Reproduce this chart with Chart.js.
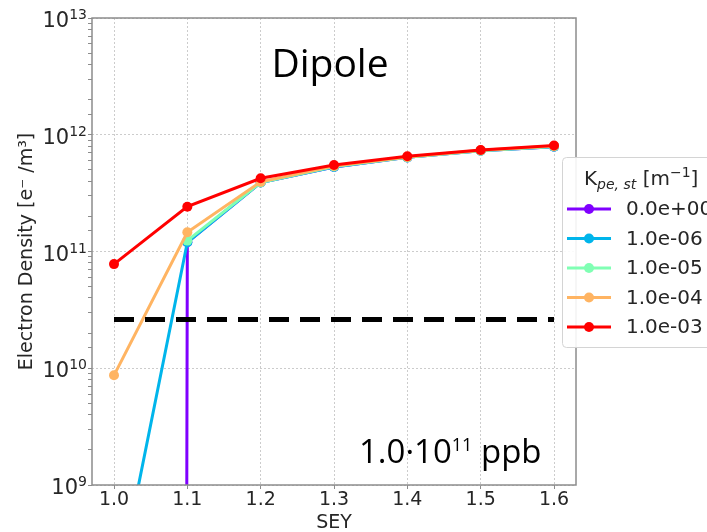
<!DOCTYPE html>
<html>
<head>
<meta charset="utf-8">
<script src="https://cdn.jsdelivr.net/npm/chart.js@4"></script>
<style>body{margin:0;background:#fff}canvas{display:block}</style>
</head>
<body>
<canvas id="myChart" width="707" height="532"></canvas>
<script>
const sey = [1.0, 1.1, 1.2, 1.3, 1.4, 1.5, 1.6]
const kLabels = ['0.0e+00', '1.0e-06', '1.0e-05', '1.0e-04', '1.0e-03']
// K = 0 gives zero density at SEY 1.0; kept as a tiny value so the log axis drops it straight down
const dens0 = [1e-300, 1.2e11, 3.9e11, 5.3e11, 6.4e11, 7.3e11, 7.9e11]
const dens1 = [9e7, 1.2e11, 3.9e11, 5.3e11, 6.4e11, 7.3e11, 7.9e11]
const dens2 = [null, 1.24e11, 3.9e11, 5.35e11, 6.4e11, 7.3e11, 7.95e11]
const dens3 = [8.7e9, 1.46e11, 3.95e11, 5.4e11, 6.45e11, 7.35e11, 8.0e11]
const dens4 = [7.8e10, 2.42e11, 4.24e11, 5.5e11, 6.55e11, 7.4e11, 8.1e11]
const thresholdSey = [1.0, 1.6]
const thresholdDens = [2.62e10, 2.62e10]
const xTicks = [1.0, 1.1, 1.2, 1.3, 1.4, 1.5, 1.6]
const yDecades = [9, 10, 11, 12, 13]

const colors = ['#8000ff', '#00b5eb', '#80ffb4', '#ffb462', '#ff0000']
const series = [dens0, dens1, dens2, dens3, dens4]
const textColor = '#262626'
const tickFont = '"DejaVu Sans", sans-serif'

let datasets = series.map((vals, i) => ({
    label: kLabels[i],
    data: sey.map((x, j) => ({ x: x, y: vals[j] })),
    borderColor: colors[i],
    backgroundColor: colors[i],
    pointBackgroundColor: colors[i],
    borderWidth: 3,
    pointRadius: 5,
    pointHoverRadius: 5,
    pointBorderWidth: 0,
    order: series.length - 1 - i,
    clip: 0
}))
datasets.push({
    label: '',
    data: thresholdSey.map((x, j) => ({ x: x, y: thresholdDens[j] })),
    borderColor: '#000',
    borderWidth: 5,
    borderDash: [20, 11],
    pointRadius: 0,
    order: -1,
    clip: 0
})

const isDecade = (v) => {
    const l = Math.log10(v)
    return Math.abs(l - Math.round(l)) < 1e-9
}

const extras = {
    id: 'extras',
    afterDraw(chart) {
        const ctx = chart.ctx
        const a = chart.chartArea
        const ys = chart.scales.y
        ctx.save()

        // frame
        ctx.strokeStyle = '#8c8c8c'
        ctx.lineWidth = 1.5
        ctx.strokeRect(a.left, a.top, a.right - a.left, a.bottom - a.top)

        // y tick labels 10^n
        ctx.fillStyle = textColor
        ctx.textBaseline = 'alphabetic'
        ctx.textAlign = 'right'
        yDecades.forEach(e => {
            const y = ys.getPixelForValue(Math.pow(10, e))
            ctx.font = '14px ' + tickFont
            const ew = ctx.measureText(String(e)).width
            ctx.fillText(String(e), a.left - 5, y + 1)
            ctx.font = '21px ' + tickFont
            ctx.fillText('10', a.left - 5 - ew, y + 9)
        })

        // annotations
        ctx.textAlign = 'center'
        ctx.font = '39px "Open Sans", sans-serif'
        ctx.fillStyle = '#000'
        ctx.fillText('Dipole', 330, 77)

        ctx.textAlign = 'left'
        let x = 359
        ctx.font = '33px "Open Sans", sans-serif'
        ctx.fillText('1.0\u00b710', x, 463)
        x += ctx.measureText('1.0\u00b710').width
        ctx.font = '18px "Open Sans", sans-serif'
        ctx.fillText('11', x, 451)
        x += ctx.measureText('11').width
        ctx.font = '33px "Open Sans", sans-serif'
        ctx.fillText(' ppb', x, 463)

        // legend
        const lx = a.right - 14, ly = 157
        ctx.fillStyle = 'rgba(255,255,255,0.9)'
        ctx.strokeStyle = '#d4d4d4'
        ctx.lineWidth = 1
        ctx.beginPath()
        ctx.roundRect(lx + 0.5, ly + 0.5, 200, 190, 4)
        ctx.fill()
        ctx.stroke()

        ctx.fillStyle = textColor
        x = lx + 22
        const tb = ly + 28
        ctx.font = '20px ' + tickFont
        ctx.fillText('K', x, tb)
        x += ctx.measureText('K').width
        ctx.font = 'italic 14px ' + tickFont
        ctx.fillText('pe, st', x, tb + 4)
        x += ctx.measureText('pe, st').width
        ctx.font = '20px ' + tickFont
        ctx.fillText(' [m', x, tb)
        x += ctx.measureText(' [m').width
        ctx.font = '14px ' + tickFont
        ctx.fillText('\u22121', x, tb - 8)
        x += ctx.measureText('\u22121').width
        ctx.font = '20px ' + tickFont
        ctx.fillText(']', x, tb)

        ctx.textBaseline = 'middle'
        kLabels.forEach((lab, i) => {
            const y = ly + 52 + i * 29.5
            ctx.strokeStyle = colors[i]
            ctx.lineWidth = 3
            ctx.beginPath()
            ctx.moveTo(lx + 5, y)
            ctx.lineTo(lx + 49, y)
            ctx.stroke()
            ctx.fillStyle = colors[i]
            ctx.beginPath()
            ctx.arc(lx + 27, y, 5, 0, Math.PI * 2)
            ctx.fill()
            ctx.fillStyle = textColor
            ctx.font = '20px ' + tickFont
            ctx.fillText(lab, lx + 64, y + 1)
        })
        ctx.restore()
    }
}

var ctx = document.getElementById('myChart')
let chart = new Chart(ctx, {
    type: 'line',
    data: { datasets: datasets },
    plugins: [extras],
    options: {
        responsive: false,
        animation: false,
        layout: { padding: { top: 18, right: 131, bottom: 0, left: 0 } },
        plugins: { legend: { display: false }, tooltip: { enabled: false } },
        scales: {
            x: {
                type: 'linear',
                min: 0.97,
                max: 1.63,
                afterBuildTicks: (s) => { s.ticks = xTicks.map(v => ({ value: v })) },
                afterFit: (s) => { s.height = 47 },
                ticks: {
                    callback: (v) => v.toFixed(1),
                    font: { family: tickFont, size: 19 },
                    color: textColor,
                    padding: 0,
                    maxRotation: 0
                },
                grid: { color: '#cccccc', tickColor: '#8c8c8c', tickLength: 4, lineWidth: 1 },
                border: { display: false, dash: [2, 2] },
                title: {
                    display: true,
                    text: 'SEY',
                    font: { family: tickFont, size: 19 },
                    color: textColor,
                    padding: { top: 0, bottom: -2 }
                }
            },
            y: {
                type: 'logarithmic',
                min: 1e9,
                max: 1e13,
                afterFit: (s) => { s.width = 92 },
                ticks: { display: false, autoSkip: false },
                grid: {
                    color: (c) => c.tick && isDecade(c.tick.value) ? '#cccccc' : 'rgba(0,0,0,0)',
                    tickColor: '#8c8c8c',
                    tickLength: 4,
                    lineWidth: 1
                },
                border: { display: false, dash: [2, 2] },
                title: {
                    display: true,
                    text: 'Electron Density [e\u207b /m\u00b3]',
                    font: { family: tickFont, size: 19 },
                    color: textColor,
                    padding: { top: 16, bottom: 0 }
                }
            }
        }
    }
})
</script>
</body>
</html>
